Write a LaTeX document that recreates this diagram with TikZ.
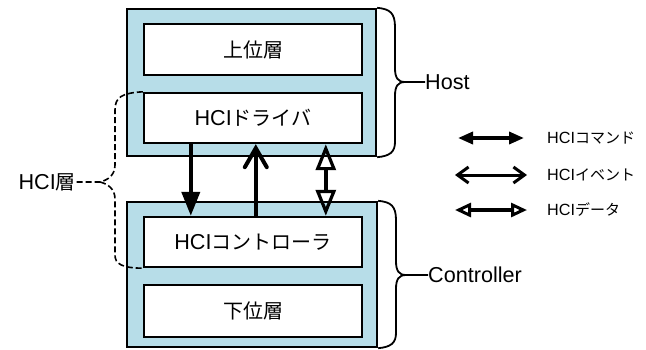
\documentclass[tikz,border=0pt]{standalone}
\usepackage{fontspec}
\setmainfont{Liberation Sans}[Scale=1.08]
\newfontfamily\jp{Noto Sans CJK JP}
\usetikzlibrary{arrows.meta}
\definecolor{lb}{HTML}{B7DDE8}
\begin{document}
\begin{tikzpicture}[x=1pt,y=-1pt,
  outerbox/.style={draw, line width=2.4pt, fill=lb, inner sep=0pt},
  innerbox/.style={draw, line width=2.4pt, fill=white, minimum width=218pt, minimum height=50pt, inner sep=0pt, font=\fontsize{20}{20}\selectfont},
  lbl/.style={inner sep=0pt, font=\fontsize{20}{20}\selectfont},
  leg/.style={inner sep=0pt, anchor=west, font=\fontsize{15}{15}\selectfont},
  brace/.style={draw, line width=1.8pt},
  cmdarrow/.style={line width=4pt, -{Triangle[length=24pt,width=18pt]}},
  evtarrow/.style={line width=4pt, -{Straight Barb[length=19pt,width=22pt,line cap=round]}},
  datarrow/.style={line width=4pt, {Triangle[open,length=26pt,width=20pt,line width=3.2pt]}-{Triangle[open,length=26pt,width=20pt,line width=3.2pt]}},
  cmdleg/.style={line width=3.5pt, {Triangle[length=15pt,width=12pt]}-{Triangle[length=15pt,width=12pt]}},
  evtleg/.style={line width=3pt, {Straight Barb[length=11pt,width=16pt]}-{Straight Barb[length=11pt,width=16pt]}},
  datleg/.style={line width=3.5pt, {Triangle[open,length=16pt,width=14pt,line width=3pt]}-{Triangle[open,length=16pt,width=14pt,line width=3pt]}}
]
\useasboundingbox (0,0) rectangle (646,349);
% outer boxes
\node[outerbox, minimum width=249pt, minimum height=147pt] (host) at (251.5,82.5) {};
\node[outerbox, minimum width=250pt, minimum height=145pt] (ctrl) at (252,274.5) {};
% inner boxes
\node[innerbox, minimum height=51pt] (upper) at (253,49.5) {\jp 上位層};
\node[innerbox] (drv) at (253,118) {HCI{\jp ドライバ}};
\node[innerbox] (ctl) at (253,242) {HCI{\jp コントローラ}};
\node[innerbox, minimum height=52pt] (lower) at (253,311) {\jp 下位層};
% arrows between boxes
\draw[cmdarrow] ([xshift=48pt]drv.south west) -- ([xshift=48pt]ctl.north west);
\draw[evtarrow] ([xshift=113pt]ctl.north west) -- ([xshift=113pt]drv.south west);
\draw[datarrow] ([xshift=183pt]drv.south west) -- ([xshift=183pt]ctl.north west);
% Host brace
\node[lbl, anchor=west] (hostlbl) at (425,82) {Host};
\draw[brace] (host.north east) .. controls (390,9) and (395,13) .. (395,27) -- (395,68)
  .. controls (395,78) and (398,82) .. (405,82) -- (hostlbl.west)
  (405,82) .. controls (398,82) and (395,86) .. (395,96) -- (395,142)
  .. controls (395,152) and (390,156) .. (host.south east);
% Controller brace
\node[lbl, anchor=west] (ctrllbl) at (428,275) {Controller};
\draw[brace] (ctrl.north east) .. controls (391,202) and (396,206) .. (396,220) -- (396,261)
  .. controls (396,271) and (399,275) .. (406,275) -- (ctrllbl.west)
  (406,275) .. controls (399,275) and (396,279) .. (396,289) -- (396,333)
  .. controls (396,343) and (391,347) .. (ctrl.south east);
% HCI layer dashed brace
\node[lbl, anchor=east] (hcilbl) at (76,182) {HCI{\jp 層}};
\draw[line width=1.6pt, dash pattern=on 6pt off 3pt] (drv.north west) .. controls (122,93) and (115,97) .. (115,110) -- (115,165)
  .. controls (115,175) and (108,180) .. (100,182) -- (hcilbl.east)
  (100,182) .. controls (108,184) and (115,189) .. (115,199) -- (115,255)
  .. controls (115,264) and (122,268) .. (ctl.south west);
% legend
\coordinate (c1a) at (458,138); \coordinate (c1b) at (524,138);
\coordinate (c2a) at (455,175); \coordinate (c2b) at (527,175);
\coordinate (c3a) at (455,210); \coordinate (c3b) at (527,210);
\draw[cmdleg] (c1a) -- (c1b);
\draw[evtleg] (c2a) -- (c2b);
\draw[datleg] (c3a) -- (c3b);
\node[leg] (l1) at (547,138) {HCI{\jp コマンド}};
\node[leg] (l2) at (547,175) {HCI{\jp イベント}};
\node[leg] (l3) at (547,210) {HCI{\jp データ}};
\end{tikzpicture}
\end{document}
